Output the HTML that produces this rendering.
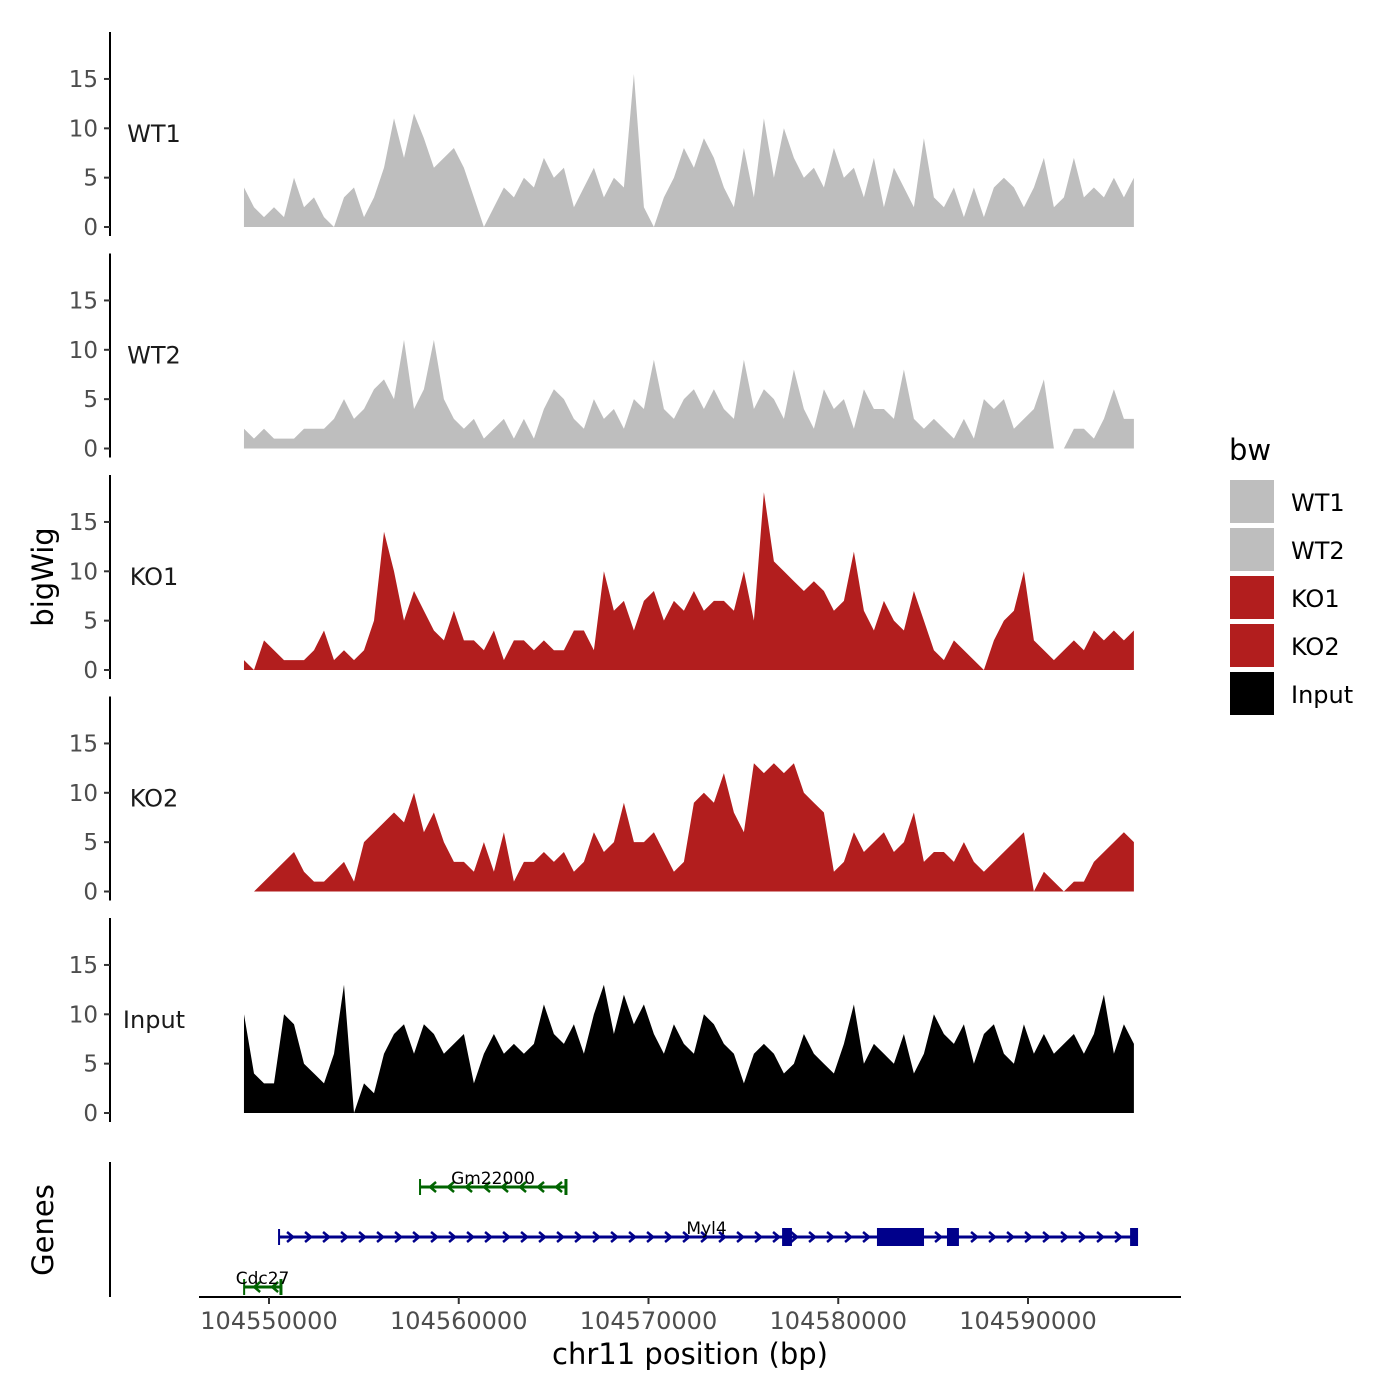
<!DOCTYPE html>
<html><head><meta charset="utf-8"><style>
body{margin:0;background:#fff;}
svg{display:block;font-family:"DejaVu Sans","Liberation Sans",sans-serif;}
</style></head><body>
<svg id="chart" width="1400" height="1400" viewBox="0 0 1400 1400">
<rect width="1400" height="1400" fill="#fff"/>
</svg>
<script>
const trackNames = ["WT1","WT2","KO1","KO2","Input"];
const trackColors = ["#bebebe","#bebebe","#b21e1e","#b21e1e","#000000"];
const binStart = 104548680;
const binWidth = 527;
const wt1 = [4,2,1,2,1,5,2,3,1,0,3,4,1,3,6,11,7,11.5,9,6,7,8,6,3,0,2,4,3,5,4,7,5,6,2,4,6,3,5,4,15.5,2,0,3,5,8,6,9,7,4,2,8,3,11,5,10,7,5,6,4,8,5,6,3,7,2,6,4,2,9,3,2,4,1,4,1,4,5,4,2,4,7,2,3,7,3,4,3,5,3,5];
const wt2 = [2,1,2,1,1,1,2,2,2,3,5,3,4,6,7,5,11,4,6,11,5,3,2,3,1,2,3,1,3,1,4,6,5,3,2,5,3,4,2,5,4,9,4,3,5,6,4,6,4,3,9,4,6,5,3,8,4,2,6,4,5,2,6,4,4,3,8,3,2,3,2,1,3,1,5,4,5,2,3,4,7,0,0,2,2,1,3,6,3,3];
const ko1 = [1,0,3,2,1,1,1,2,4,1,2,1,2,5,14,10,5,8,6,4,3,6,3,3,2,4,1,3,3,2,3,2,2,4,4,2,10,6,7,4,7,8,5,7,6,8,6,7,7,6,10,5,18,11,10,9,8,9,8,6,7,12,6,4,7,5,4,8,5,2,1,3,2,1,0,3,5,6,10,3,2,1,2,3,2,4,3,4,3,4];
const ko2 = [0,0,1,2,3,4,2,1,1,2,3,1,5,6,7,8,7,10,6,8,5,3,3,2,5,2,6,1,3,3,4,3,4,2,3,6,4,5,9,5,5,6,4,2,3,9,10,9,12,8,6,13,12,13,12,13,10,9,8,2,3,6,4,5,6,4,5,8,3,4,4,3,5,3,2,3,4,5,6,0,2,1,0,1,1,3,4,5,6,5];
const input = [10,4,3,3,10,9,5,4,3,6,13,0,3,2,6,8,9,6,9,8,6,7,8,3,6,8,6,7,6,7,11,8,7,9,6,10,13,8,12,9,11,8,6,9,7,6,10,9,7,6,3,6,7,6,4,5,8,6,5,4,7,11,5,7,6,5,8,4,6,10,8,7,9,5,8,9,6,5,9,6,8,6,7,8,6,8,12,6,9,7];
const series = [wt1,wt2,ko1,ko2,input];
const yTicks = [0,5,10,15];
const xTicks = [104550000,104560000,104570000,104580000,104590000];
const geneNames = ["Gm22000","Myl4","Cdc27"];
const geneStarts = [104557960,104550530,104548690];
const geneEnds = [104565650,104595590,104550630];
const geneStrand = [-1,1,-1];
const geneRows = [0,1,2];
const exonStarts = [104582040,104585730,104595380,104577040];
const exonEnds = [104584520,104586360,104595800,104577560];

const NS="http://www.w3.org/2000/svg";
const svg=document.getElementById('chart');
function xs(v){return 269+(v-104550000)*0.018975;}
function ys(i,v){return 227+221.5*i-v*9.87;}
function el(t,a,p){const e=document.createElementNS(NS,t);for(const k in a)e.setAttribute(k,a[k]);(p||svg).appendChild(e);return e;}

series.forEach((vals,i)=>{
  const g=el('g',{});
  
  
  const y0=ys(i,0);
  let d='M'+xs(binStart)+','+y0;
  vals.forEach((v,k)=>{d+=' L'+xs(binStart+k*binWidth).toFixed(1)+','+ys(i,v).toFixed(1);});
  d+=' L'+xs(binStart+(vals.length-1)*binWidth).toFixed(1)+','+y0+'Z';
  const a=el('path',{d:d,fill:trackColors[i]},g);
  
  
  const ax=el('line',{x1:110,x2:110,y1:y0-195,y2:y0+9,stroke:'#000','stroke-width':2},g);
  
  
  yTicks.forEach(t=>{
    const yy=ys(i,t);
    el('line',{x1:104,x2:110,y1:yy,y2:yy,stroke:'#333','stroke-width':2},g);
    const tx=el('text',{x:98,y:yy+8,'text-anchor':'end','font-size':23,fill:'#4d4d4d'},g);
    tx.textContent=t;
    
    
  });
  const lb=el('text',{x:154,y:ys(i,8.6),'text-anchor':'middle','font-size':24,fill:'#1a1a1a'},g);
  lb.textContent=trackNames[i];
  
  
});

// genes
const gg=el('g',{});


el('line',{x1:110,x2:110,y1:1162,y2:1297,stroke:'#000','stroke-width':2},gg);
const rowY=[1187,1237,1287];
geneNames.forEach((n,i)=>{
  const col=geneStrand[i]>0?'#00008b':'#006400';
  const y=rowY[geneRows[i]];
  const x1=xs(geneStarts[i]),x2=xs(geneEnds[i]);
  const g=el('g',{},gg);
  
  
  el('line',{x1:x1,x2:x2,y1:y,y2:y,stroke:col,'stroke-width':3},g);
  el('line',{x1:x1,x2:x1,y1:y-8,y2:y+8,stroke:col,'stroke-width':2},g);
  el('line',{x1:x2,x2:x2,y1:y-8,y2:y+8,stroke:col,'stroke-width':3},g);
  for(let x=x1+12;x<x2-6;x+=18){
    const s=geneStrand[i];
    el('polyline',{points:(x-4*s)+','+(y-5)+' '+(x+2*s)+','+y+' '+(x-4*s)+','+(y+5),fill:'none',stroke:col,'stroke-width':2.5},g);
  }
  const t=el('text',{x:(x1+x2)/2,y:y-3,'text-anchor':'middle','font-size':17,fill:'#000'},g);
  t.textContent=n;
  
  
});
exonStarts.forEach((s,k)=>{
  const r=el('rect',{x:xs(s),y:1228,width:xs(exonEnds[k])-xs(s),height:18,fill:'#00008b'},gg);
  
  
});

// x axis
const xa=el('g',{});


el('line',{x1:199,x2:1181,y1:1297,y2:1297,stroke:'#000','stroke-width':2},xa);
xTicks.forEach(t=>{
  el('line',{x1:xs(t),x2:xs(t),y1:1297,y2:1304,stroke:'#333','stroke-width':2},xa);
  const tx=el('text',{x:xs(t),y:1329,'text-anchor':'middle','font-size':24,fill:'#4d4d4d'},xa);
  tx.textContent=t;
  
  
});
</script>
<svg style="position:absolute;left:0;top:0" width="1400" height="1400">
<text x="690" y="1364" text-anchor="middle" font-size="29" font-family="DejaVu Sans, Liberation Sans, sans-serif">chr11 position (bp)</text>
<text transform="translate(53,577) rotate(-90)" text-anchor="middle" font-size="29" font-family="DejaVu Sans, Liberation Sans, sans-serif">bigWig</text>
<text transform="translate(53,1230) rotate(-90)" text-anchor="middle" font-size="29" font-family="DejaVu Sans, Liberation Sans, sans-serif">Genes</text>
<g font-family="DejaVu Sans, Liberation Sans, sans-serif" font-size="24">
<text x="1229" y="460" font-size="29">bw</text>
<rect x="1230" y="480" width="44" height="43" fill="#bebebe"/>
<rect x="1230" y="528" width="44" height="43" fill="#bebebe"/>
<rect x="1230" y="576" width="44" height="43" fill="#b21e1e"/>
<rect x="1230" y="624" width="44" height="43" fill="#b21e1e"/>
<rect x="1230" y="672" width="44" height="43" fill="#000"/>
<text x="1291" y="511">WT1</text>
<text x="1291" y="559">WT2</text>
<text x="1291" y="607">KO1</text>
<text x="1291" y="655">KO2</text>
<text x="1291" y="703">Input</text>
</g>
</svg>
</body></html>
